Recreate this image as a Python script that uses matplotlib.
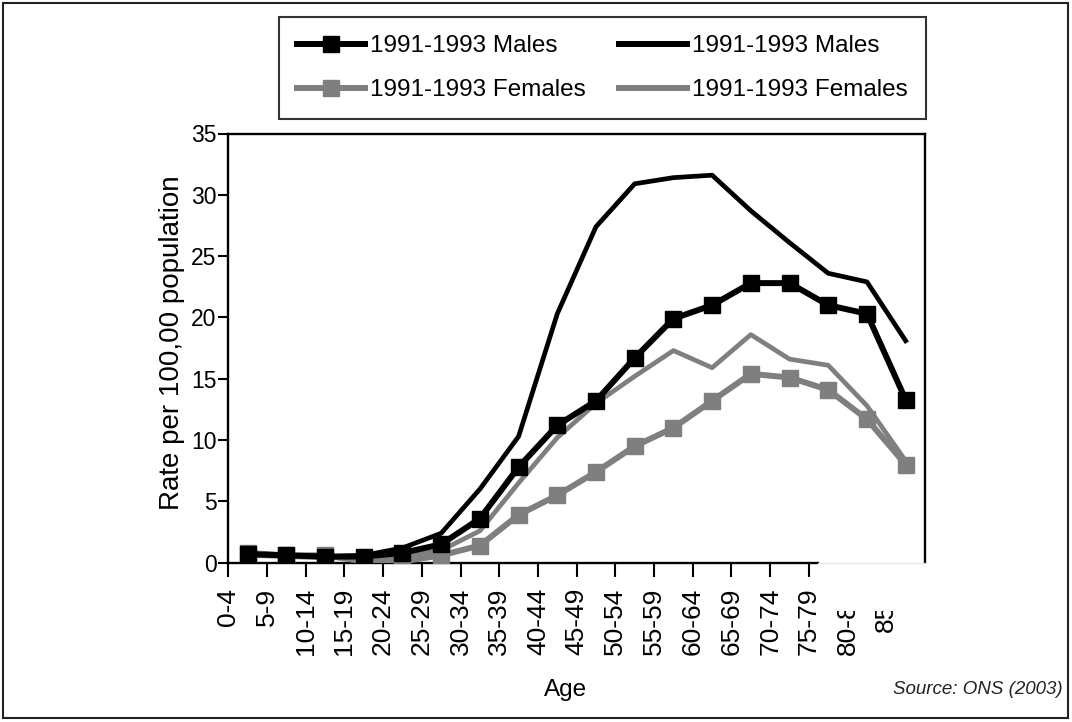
import matplotlib
matplotlib.use("Agg")
import matplotlib.pyplot as plt
from matplotlib.patches import Rectangle
from matplotlib.lines import Line2D

plt.rcParams.update({
    "font.family": ["Liberation Sans", "DejaVu Sans"],
    "axes.linewidth": 1.7,
})

# --- data ---
age_groups = ["0-4", "5-9", "10-14", "15-19", "20-24", "25-29", "30-34", "35-39",
              "40-44", "45-49", "50-54", "55-59", "60-64", "65-69", "70-74",
              "75-79", "80-84", "85+"]
males_marked = [0.7, 0.6, 0.5, 0.5, 0.8, 1.5, 3.6, 7.8, 11.2, 13.2, 16.7, 19.9,
                21.0, 22.8, 22.8, 21.0, 20.3, 13.3]
males_line = [0.7, 0.6, 0.5, 0.6, 1.2, 2.4, 6.0, 10.3, 20.3, 27.4, 30.9, 31.4,
              31.6, 28.7, 26.1, 23.6, 22.9, 18.1]
females_marked = [0.8, 0.6, 0.6, 0.1, 0.1, 0.6, 1.4, 3.9, 5.5, 7.4, 9.5, 11.0,
                  13.2, 15.4, 15.1, 14.1, 11.7, 8.0]
females_line = [0.6, 0.5, 0.4, 0.4, 0.5, 1.0, 2.6, 6.5, 10.2, 13.0, 15.2, 17.3,
                15.9, 18.6, 16.6, 16.1, 12.8, 8.3]
legend_label_m = "1991-1993 Males"
legend_label_f = "1991-1993 Females"

GREY = "#7f7f7f"
W, H = 1072, 722

fig = plt.figure(figsize=(W / 100, H / 100), dpi=100)
ax = fig.add_axes([228.3 / W, 1 - 562.7 / H, 696.7 / W, 429.2 / H])

# points sit in the middle of each category slot
xpos = [i + 0.5 for i in range(len(age_groups))]

ax.plot(xpos, females_line, color=GREY, lw=3.4, zorder=2)
ax.plot(xpos, females_marked, color=GREY, lw=4.3, marker="s", ms=12, zorder=3)
ax.plot(xpos, males_line, color="black", lw=3.4, zorder=4)
ax.plot(xpos, males_marked, color="black", lw=4.3, marker="s", ms=12, zorder=5)

ax.set_xlim(0, 18)
ax.set_ylim(0, 35)
ax.set_yticks(range(0, 36, 5))
ax.set_xticks(range(len(age_groups)))
ax.set_xticklabels(age_groups, rotation=90, va="top", ha="center")
ax.tick_params(axis="x", direction="out", length=10, width=1.5, pad=8, labelsize=19)
ax.tick_params(axis="y", direction="out", length=7, width=1.5, pad=1.5, labelsize=16.5)
ax.spines["bottom"].set_bounds(0, (818 - 228.3) / 38.7)

fig.text(172 / W, 1 - 343 / H, "Rate per 100,00 population", rotation=90,
         ha="center", va="center", fontsize=20)
fig.text(566 / W, 1 - 690 / H, "Age", ha="center", va="center", fontsize=17.5)
fig.text(1063 / W, 1 - 690 / H, "Source: ONS (2003)", ha="right", va="center",
         fontsize=13.5, style="italic", color="#222222")

# white block hiding the last tick labels, like the scanned original
fig.add_artist(Rectangle((818 / W, 1 - 611 / H), 122 / W, 47.5 / H,
                         transform=fig.transFigure, facecolor="white",
                         edgecolor="none", zorder=10))
fig.add_artist(Line2D([818 / W, 925 / W], [1 - 562.7 / H] * 2,
                      transform=fig.transFigure, color="#e4e4e4", lw=0.8, zorder=11))

handles = [
    Line2D([], [], color="black", lw=4.3, marker="s", ms=12),
    Line2D([], [], color=GREY, lw=4.3, marker="s", ms=12),
    Line2D([], [], color="black", lw=4.3),
    Line2D([], [], color=GREY, lw=4.3),
]
labels = [legend_label_m, legend_label_f, legend_label_m, legend_label_f]
leg = fig.legend(handles, labels, ncol=2, loc="upper left",
                 bbox_to_anchor=(279 / W, 1 - 122 / H, 647 / W, 105 / H),
                 mode="expand", fontsize=17.5, frameon=True, fancybox=False,
                 edgecolor="black", handlelength=2.8, handletextpad=0.2,
                 labelspacing=0.9, borderpad=0.75, borderaxespad=0)
leg.get_frame().set_linewidth(1.5)

# outer frame
fig.add_artist(Rectangle((3 / W, 4 / H), 1065 / W, 715 / H,
                         transform=fig.transFigure, fill=False,
                         edgecolor="#222222", lw=1.5, zorder=12))

fig.savefig("out.png", dpi=100)
